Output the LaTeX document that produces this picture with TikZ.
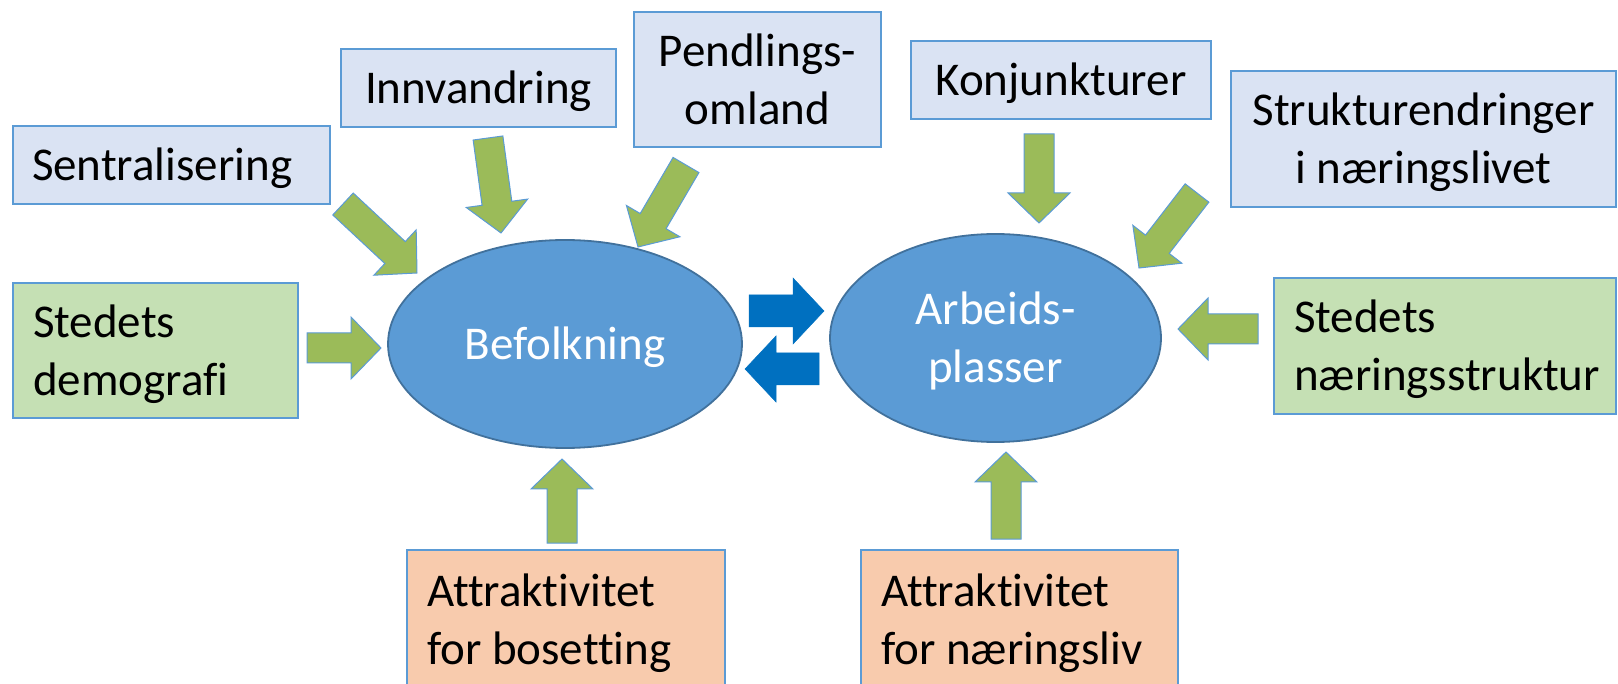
\documentclass[tikz,border=0pt]{standalone}
\usepackage{fontspec}
\setmainfont{Carlito}[Ligatures=NoCommon]
\usetikzlibrary{calc,shapes.geometric}
\definecolor{bluefill}{HTML}{DAE3F3}
\definecolor{greenfill}{HTML}{C5E0B4}
\definecolor{orangefill}{HTML}{F8CBAD}
\definecolor{boxline}{HTML}{5B9BD5}
\definecolor{ellfill}{HTML}{5B9BD5}
\definecolor{ellline}{HTML}{41719C}
\definecolor{garrow}{HTML}{9BBB59}
\definecolor{barrow}{HTML}{0070C0}
\newcommand{\ps}{\rule[-10pt]{0pt}{52pt}}
\tikzset{
  lbl/.style={font=\fontsize{47}{58}\selectfont, inner sep=0pt},
  cbox/.style={lbl, draw=boxline, line width=1.5pt, rectangle, align=center},
  lbox/.style={cbox, align=flush left, inner xsep=20pt},
  ell/.style={lbl, ellipse, draw=ellline, line width=1.8pt, fill=ellfill, text=white, align=center},
  greenarr/.style={fill=garrow, draw=boxline, line width=1pt},
  bluearr/.style={fill=barrow, draw=barrow, line width=0.5pt},
}
% block arrow: style, tail coordinate, tip coordinate, half shaft, half head, head length
\newcommand{\blockarr}[6]{%
  \coordinate (#2-hb) at ($(#3)!#6!(#2)$);
  \filldraw[#1] ($(#2)!#4!90:(#3)$) -- ($(#2-hb)!#4!90:(#3)$) -- ($(#2-hb)!#5!90:(#3)$) -- (#3)
    -- ($(#2-hb)!#5!-90:(#3)$) -- ($(#2-hb)!#4!-90:(#3)$) -- ($(#2)!#4!-90:(#3)$) -- cycle;}
\begin{document}
\begin{tikzpicture}[x=1pt,y=-1pt]
\useasboundingbox (0,0) rectangle (1618,684);
\clip (0,0) rectangle (1618,684);

% boxes
\node[lbox, inner xsep=19pt, fill=bluefill, text width=279pt, minimum width=317pt, minimum height=78pt] (sent) at (171.5,165) {\ps Sentralisering};
\node[cbox, fill=bluefill, minimum width=275pt, minimum height=78pt] (innv) at (478.5,88) {\ps Innvandring};
\node[cbox, fill=bluefill, minimum width=247pt, minimum height=135pt] (pend) at (757.5,79.5) {\ps Pendlings-\\\ps omland};
\node[cbox, fill=bluefill, minimum width=300pt, minimum height=78pt] (konj) at (1061,80) {\ps Konjunkturer};
\node[cbox, fill=bluefill, minimum width=385pt, minimum height=136pt] (strukt) at (1423.5,139) {\ps Strukturendringer\\\ps i næringslivet};
\node[lbox, fill=greenfill, text width=245pt, minimum width=285pt, minimum height=135pt] (demo) at (155.5,350.5) {\ps Stedets\\\ps demografi};
\node[lbox, fill=greenfill, text width=302pt, minimum width=342pt, minimum height=136pt] (naer) at (1445,346) {\ps Stedets\\\ps næringsstruktur};
\node[lbox, fill=orangefill, text width=278pt, minimum width=318pt, minimum height=139pt] (attb) at (566,619.5) {\ps Attraktivitet\\\ps for bosetting};
\node[lbox, fill=orangefill, text width=277pt, minimum width=317pt, minimum height=139pt] (attn) at (1019.5,619.5) {\ps Attraktivitet\\\ps for næringsliv};

% ellipses
\node[ell, minimum width=354pt, minimum height=208pt] (bef) at (565,344) {\ps Befolkning};
\node[ell, minimum width=331pt, minimum height=208pt] (arb) at (995.5,338) {\ps Arbeids-\\\ps plasser};

% arrow end points
\coordinate (sentT) at (343,204);  \coordinate (sentH) at (417,273);
\coordinate (innvT) at (488,138);  \coordinate (innvH) at (501,233);
\coordinate (pendT) at (686,165);  \coordinate (pendH) at (638,247);
\coordinate (demoT) at (307,348);  \coordinate (demoH) at (381,348);
\coordinate (konjT) at (1039,134); \coordinate (konjH) at (1039,223);
\coordinate (struktT) at (1197,193); \coordinate (struktH) at (1139,268);
\coordinate (naerT) at (1258,329); \coordinate (naerH) at (1178,329);
\coordinate (attbT) at (562,543);  \coordinate (attbH) at (562,459);
\coordinate (attnT) at (1006,539); \coordinate (attnH) at (1006,452);
\coordinate (brT) at (749,311);    \coordinate (brH) at (824,311);
\coordinate (blT) at (819,369);    \coordinate (blH) at (745,369);

\blockarr{greenarr}{sentT}{sentH}{15pt}{31pt}{30pt}
\blockarr{greenarr}{innvT}{innvH}{15pt}{31pt}{30pt}
\blockarr{greenarr}{pendT}{pendH}{15pt}{31pt}{30pt}
\blockarr{greenarr}{demoT}{demoH}{15pt}{31pt}{30pt}
\blockarr{greenarr}{konjT}{konjH}{15pt}{31pt}{30pt}
\blockarr{greenarr}{struktT}{struktH}{15pt}{31pt}{30pt}
\blockarr{greenarr}{naerT}{naerH}{15pt}{31pt}{30pt}
\blockarr{greenarr}{attbT}{attbH}{15pt}{31pt}{30pt}
\blockarr{greenarr}{attnT}{attnH}{15pt}{31pt}{30pt}
\blockarr{bluearr}{brT}{brH}{16pt}{33pt}{31pt}
\blockarr{bluearr}{blT}{blH}{16pt}{33pt}{31pt}
\end{tikzpicture}
\end{document}
